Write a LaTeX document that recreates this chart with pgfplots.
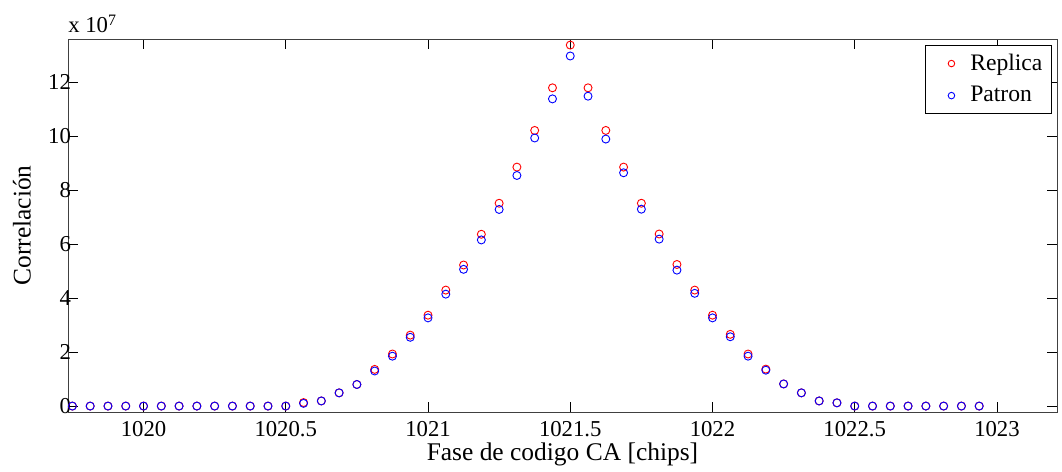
\documentclass[border=0pt]{standalone}
\usepackage{fontspec}
\setmainfont{Liberation Serif}
\usepackage{pgfplots}
\usepackage{pgfplotstable}
\pgfplotsset{compat=1.18}

\pgfplotstableread{
x y
1019.75 0
1019.8125 0
1019.875 0
1019.9375 0
1020 0
1020.0625 0
1020.125 0
1020.1875 0
1020.25 0
1020.3125 0
1020.375 0
1020.4375 0
1020.5 0
1020.5625 0.13e7
1020.625 0.19e7
1020.6875 0.49e7
1020.75 0.80e7
1020.8125 1.36e7
1020.875 1.93e7
1020.9375 2.63e7
1021 3.37e7
1021.0625 4.30e7
1021.125 5.23e7
1021.1875 6.37e7
1021.25 7.52e7
1021.3125 8.86e7
1021.375 10.22e7
1021.4375 11.80e7
1021.5 13.385e7
1021.5625 11.80e7
1021.625 10.22e7
1021.6875 8.86e7
1021.75 7.52e7
1021.8125 6.38e7
1021.875 5.25e7
1021.9375 4.30e7
1022 3.37e7
1022.0625 2.66e7
1022.125 1.93e7
1022.1875 1.37e7
1022.25 0.82e7
1022.3125 0.49e7
1022.375 0.19e7
1022.4375 0.12e7
1022.5 0
1022.5625 0
1022.625 0
1022.6875 0
1022.75 0
1022.8125 0
1022.875 0
1022.9375 0
}\replica

\pgfplotstableread{
x y
1019.75 0
1019.8125 0
1019.875 0
1019.9375 0
1020 0
1020.0625 0
1020.125 0
1020.1875 0
1020.25 0
1020.3125 0
1020.375 0
1020.4375 0
1020.5 0
1020.5625 0.10e7
1020.625 0.19e7
1020.6875 0.49e7
1020.75 0.80e7
1020.8125 1.30e7
1020.875 1.85e7
1020.9375 2.55e7
1021 3.27e7
1021.0625 4.15e7
1021.125 5.07e7
1021.1875 6.16e7
1021.25 7.29e7
1021.3125 8.55e7
1021.375 9.94e7
1021.4375 11.39e7
1021.5 12.98e7
1021.5625 11.49e7
1021.625 9.90e7
1021.6875 8.65e7
1021.75 7.30e7
1021.8125 6.19e7
1021.875 5.04e7
1021.9375 4.18e7
1022 3.27e7
1022.0625 2.57e7
1022.125 1.85e7
1022.1875 1.33e7
1022.25 0.82e7
1022.3125 0.49e7
1022.375 0.19e7
1022.4375 0.12e7
1022.5 0
1022.5625 0
1022.625 0
1022.6875 0
1022.75 0
1022.8125 0
1022.875 0
1022.9375 0
}\patron

\begin{document}
\fontsize{12.5}{15}\selectfont
\begin{tikzpicture}
\begin{axis}[
    scale only axis,
    width=543.95pt, height=205.15pt,
    xmin=1019.7345, xmax=1023.211,
    ymin=-0.22e7, ymax=13.61e7,
    clip mode=individual,
    axis line style={black!75},
    tick style={black, line width=0.5pt},
    major tick length=5.5pt,
    tick align=inside,
    scaled x ticks=false,
    scaled y ticks=false,
    xtick={1020,1020.5,1021,1021.5,1022,1022.5,1023},
    xticklabels={1020,1020.5,1021,1021.5,1022,1022.5,1023},
    ytick={0,2e7,4e7,6e7,8e7,10e7,12e7},
    yticklabels={0,2,4,6,8,10,12},
    y tick label style={xshift=6pt},
    x tick label style={yshift=-0.8pt},
    xlabel={Fase de codigo CA [chips]},
    ylabel={Correlación},
    label style={font=\fontsize{14}{16}\selectfont},
    xlabel style={yshift=5.2pt},
    ylabel style={yshift=1pt},
    legend style={at={(rel axis cs:1,1)}, anchor=north east, xshift=-2.75pt, yshift=-3.3pt,
        draw=black, line width=0.5pt, inner xsep=3pt, inner ysep=2.5pt, row sep=3pt,
        font=\fontsize{13}{15}\selectfont, nodes={inner sep=2pt}},
    legend image code/.code={\path (0pt,0pt) (19.4pt,0pt);
        \draw[#1, mark size=1.8pt] plot coordinates {(11.3pt,0pt)};},
    legend cell align=left,
]
\addplot[only marks, mark=o, mark size=2.2pt, red, mark options={line width=0.5pt}] table[x=x, y=y] {\replica};
\addlegendentry{Replica}
\addplot[only marks, mark=o, mark size=2.2pt, blue, mark options={line width=0.5pt}] table[x=x, y=y] {\patron};
\addlegendentry{Patron}
\node[anchor=base west, inner sep=0pt] at ([yshift=3.3pt]rel axis cs:0,1) {x 10\textsuperscript{7}};
\coordinate (bl) at (rel axis cs:0,0);
\coordinate (tr) at (rel axis cs:1,1);
\end{axis}
\pgfresetboundingbox
\path ([xshift=-37.4pt,yshift=-33pt]bl) rectangle ([xshift=2.75pt,yshift=21.45pt]tr);
\end{tikzpicture}
\end{document}
